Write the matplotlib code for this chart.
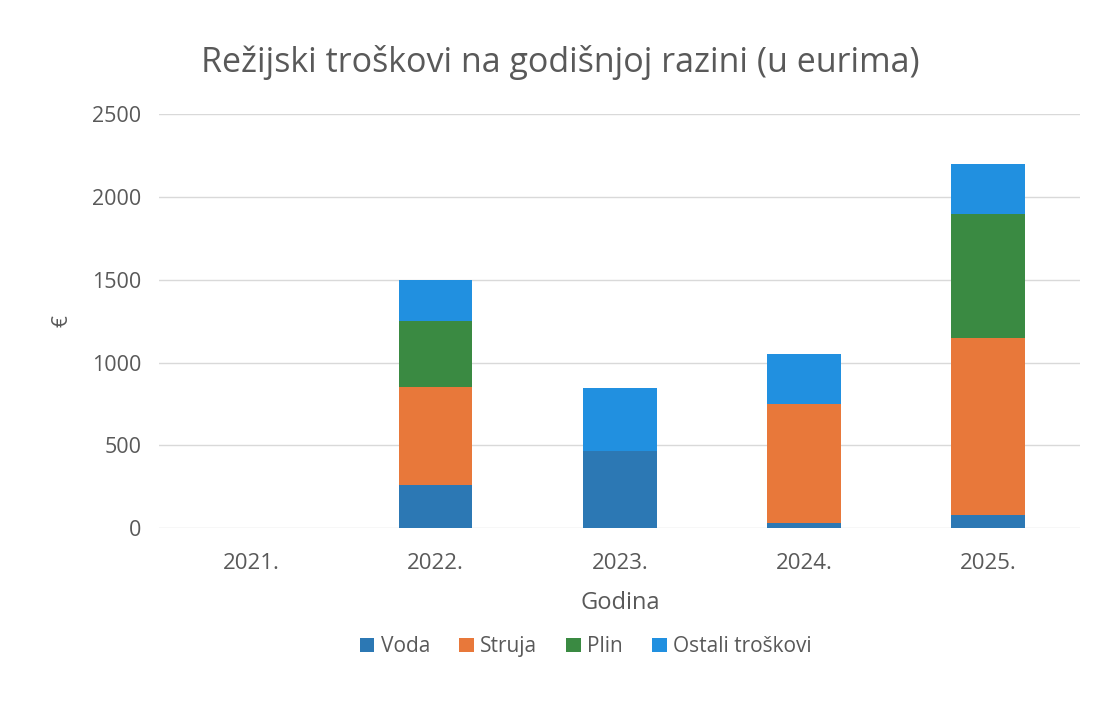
import numpy as np
import matplotlib
matplotlib.use("Agg")
import matplotlib.pyplot as plt

# Data
godine = ['2021.', '2022.', '2023.', '2024.', '2025.']
voda = [0, 260, 465, 30, 80]
struja = [0, 590, 0, 720, 1070]
plin = [0, 400, 0, 0, 750]
ostali = [0, 250, 380, 300, 300]

serije = ['Voda', 'Struja', 'Plin', 'Ostali troškovi']
boje = ['#2c78b4', '#e8783a', '#3a8a42', '#2190e0']

plt.rcParams['font.family'] = ['Open Sans', 'DejaVu Sans']
text_col = '#595959'

fig = plt.figure(figsize=(10.99, 7.09), dpi=100)
ax = fig.add_axes([0.145, 0.255, 0.838, 0.584])

x = np.arange(len(godine))
bottom = np.zeros(len(godine))
for naziv, vals, c in zip(serije, [voda, struja, plin, ostali], boje):
    ax.bar(x, vals, width=0.40, bottom=bottom, color=c, label=naziv, zorder=3)
    bottom += np.array(vals)

ax.set_xlim(-0.5, len(godine) - 0.5)
ax.set_ylim(0, 2500)
ax.set_yticks(range(0, 2501, 500))
ax.set_xticks(x)
ax.set_xticklabels(godine)
ax.grid(axis='y', color='#d9d9d9', linewidth=1, zorder=0)
for s in ax.spines.values():
    s.set_visible(False)
ax.tick_params(length=0, labelsize=15.5, colors=text_col, pad=13)
ax.tick_params(axis='x', labelsize=16, pad=18)

ax.set_xlabel('Godina', fontsize=17, color=text_col, labelpad=12)
ax.set_ylabel('€', fontsize=15, color=text_col, labelpad=14)

fig.text(0.51, 0.912, 'Režijski troškovi na godišnjoj razini (u eurima)',
         ha='center', va='center', fontsize=24.5, color=text_col)

fig.legend(loc='center', bbox_to_anchor=(0.533, 0.088), ncol=4, frameon=False,
           fontsize=15, labelcolor=text_col, handlelength=0.7, handleheight=0.7,
           handletextpad=0.3, columnspacing=1.4)

fig.savefig('out.png', dpi=100, facecolor='white')
